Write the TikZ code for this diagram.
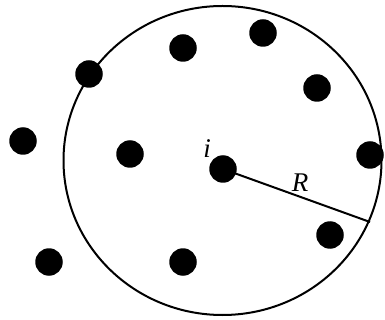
\documentclass[tikz,border=0pt]{standalone}
\usepackage{fontspec}
\setmainfont{Liberation Serif}
\usetikzlibrary{positioning}

\begin{document}
\begin{tikzpicture}[
  x=1pt, y=-1pt,
  particle/.style={circle, fill=black, inner sep=0pt, minimum size=27.5pt},
  rim/.style={draw=black, line width=2pt},
  tag/.style={font=\fontsize{27}{29}\selectfont\itshape, inner sep=0pt}
]
  \useasboundingbox (0,0) rectangle (385,320);
  % cutoff sphere
  \draw[rim] (222.5,160.5) ellipse (159 and 154.5);
  % particles
  \node[particle] (p1) at (89,74) {};
  \node[particle] (p2) at (183,48) {};
  \node[particle] (p3) at (263,33) {};
  \node[particle] (p4) at (317,88) {};
  \node[particle] (p5) at (370,155) {};
  \node[particle] (p6) at (23,141) {};
  \node[particle] (p7) at (130,154) {};
  \node[particle] (pi) at (223,169) {};
  \node[particle] (p8) at (330,235) {};
  \node[particle] (p9) at (49,262) {};
  \node[particle] (p10) at (183,262) {};
  \coordinate (edge) at (370,222);
  \draw[rim] (pi.center) -- (edge);
  \node[tag] (ilabel) at (207,149) {i};
  \node[tag] (rlabel) at (300,183) {R};
\end{tikzpicture}
\end{document}
